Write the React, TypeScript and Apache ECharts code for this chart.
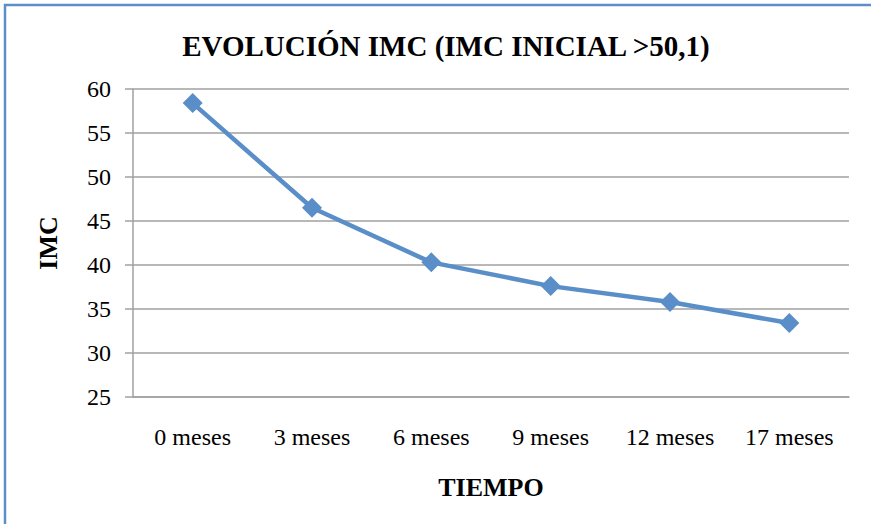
import React, { useEffect, useRef } from "react";
import * as echarts from "echarts";

const categories = ["0 meses", "3 meses", "6 meses", "9 meses", "12 meses", "17 meses"];
const imcValues = [58.4, 46.5, 40.3, 37.6, 35.8, 33.4];
const titleText = "EVOLUCIÓN IMC (IMC INICIAL >50,1)";
const yName = "IMC";
const xName = "TIEMPO";

export default function App() {
  const ref = useRef<HTMLDivElement>(null);
  useEffect(() => {
    if (!ref.current) return;
    const chart = echarts.init(ref.current, undefined, { renderer: "svg" });
    const font = "'Liberation Serif', 'Times New Roman', serif";
    chart.setOption({
      animation: false,
      backgroundColor: "#ffffff",
      title: {
        text: titleText,
        left: 441,
        textAlign: "center",
        top: 26,
        textStyle: { fontFamily: font, fontWeight: "bold", fontSize: 29, color: "#000" },
      },
      graphic: [
        {
          type: "polyline",
          shape: { points: [[5, 524], [5, 5], [871, 5]] },
          style: { stroke: "#5b8fcb", lineWidth: 2.5, fill: "none" },
        },
      ],
      grid: { left: 133, right: 22, top: 89, bottom: 127, containLabel: false },
      xAxis: {
        type: "category",
        data: categories,
        boundaryGap: true,
        name: xName,
        nameLocation: "middle",
        nameGap: 77,
        nameTextStyle: { fontFamily: font, fontWeight: "bold", fontSize: 26, color: "#000" },
        axisLine: { show: true, lineStyle: { color: "#a0a0a0", width: 1.5 } },
        axisTick: { show: false },
        axisLabel: { fontFamily: font, fontSize: 24, color: "#000", margin: 28 },
        splitLine: { show: false },
      },
      yAxis: {
        type: "value",
        min: 25,
        max: 60,
        interval: 5,
        name: yName,
        nameLocation: "middle",
        nameRotate: 90,
        nameGap: 72,
        nameTextStyle: { fontFamily: font, fontWeight: "bold", fontSize: 26, color: "#000" },
        axisLine: { show: true, lineStyle: { color: "#a0a0a0", width: 1.5 } },
        axisTick: { show: true, inside: false, length: 8, lineStyle: { color: "#a0a0a0", width: 1.5 } },
        axisLabel: { fontFamily: font, fontSize: 24, color: "#000", margin: 22 },
        splitLine: { show: true, lineStyle: { color: "#a0a0a0", width: 1.5 } },
      },
      series: [
        {
          type: "line",
          data: imcValues,
          symbol: "diamond",
          symbolSize: 20,
          itemStyle: { color: "#5a8ec9" },
          lineStyle: { color: "#5a8ec9", width: 4.5 },
        },
      ],
    });
    return () => chart.dispose();
  }, []);
  return (
    <div
      ref={ref}
      style={{ position: "fixed", left: 0, top: 0, width: 871, height: 524 }}
    />
  );
}
